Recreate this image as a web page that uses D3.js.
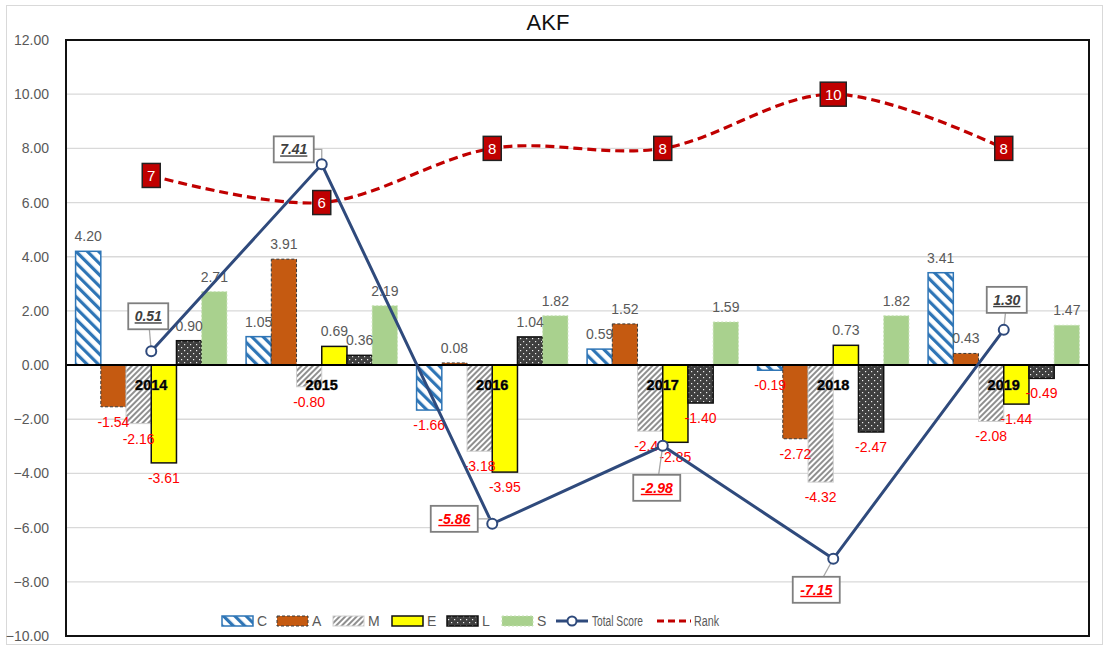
<!DOCTYPE html>
<html>
<head>
<meta charset="utf-8">
<script src="https://cdn.jsdelivr.net/npm/d3@7"></script>
<style>
  body { margin: 0; background: #fff; }
  text { font-family: "Liberation Sans", Arial, sans-serif; }
</style>
</head>
<body>
<div id="chart"></div>
<script>
// data
const years = ["2014", "2015", "2016", "2017", "2018", "2019"];
const seriesNames = ["C", "A", "M", "E", "L", "S"];
const C = [4.20, 1.05, -1.66, 0.59, -0.19, 3.41];
const A = [-1.54, 3.91, 0.08, 1.52, -2.72, 0.43];
const M = [-2.16, -0.80, -3.18, -2.44, -4.32, -2.08];
const E = [-3.61, 0.69, -3.95, -2.85, 0.73, -1.44];
const L = [0.90, 0.36, 1.04, -1.40, -2.47, -0.49];
const S = [2.71, 2.19, 1.82, 1.59, 1.82, 1.47];
const totalScore = [0.51, 7.41, -5.86, -2.98, -7.15, 1.30];
const rank = [7, 6, 8, 8, 10, 8];
const yTicks = [12, 10, 8, 6, 4, 2, 0, -2, -4, -6, -8, -10];

const width = 1104, height = 646;
const margin = { top: 40, right: 15, bottom: 10, left: 66 };
const plotW = 1089 - margin.left, plotH = 636 - margin.top;

// where the total score boxes sit relative to their point (dx, dy of box centre)
const totalLabelShift = [[-3, -35], [-28, -15], [-38, -5], [-6, 42], [-17, 31], [3, -30]];

const valuesBySeries = { C: C, A: A, M: M, E: E, L: L, S: S };
const rows = [];
seriesNames.forEach(s => {
  valuesBySeries[s].forEach((v, i) => rows.push({ series: s, year: years[i], value: v }));
});

const svg = d3.select("#chart")
  .append("svg")
  .attr("width", width)
  .attr("height", height);

const defs = svg.append("defs");

// C: wide blue downward diagonal
const pC = defs.append("pattern")
  .attr("id", "patC")
  .attr("patternUnits", "userSpaceOnUse")
  .attr("width", 8).attr("height", 8)
  .attr("patternTransform", "rotate(-45)");
pC.append("rect").attr("width", 8).attr("height", 8).attr("fill", "#fff");
pC.append("rect").attr("width", 3.2).attr("height", 8).attr("fill", "#2E75B6");

// M: thin gray upward diagonal
const pM = defs.append("pattern")
  .attr("id", "patM")
  .attr("patternUnits", "userSpaceOnUse")
  .attr("width", 4).attr("height", 4)
  .attr("patternTransform", "rotate(45)");
pM.append("rect").attr("width", 4).attr("height", 4).attr("fill", "#fff");
pM.append("rect").attr("width", 2).attr("height", 4).attr("fill", "#8f8f8f");

// L: dark with white dots
const pL = defs.append("pattern")
  .attr("id", "patL")
  .attr("patternUnits", "userSpaceOnUse")
  .attr("width", 6).attr("height", 6);
pL.append("rect").attr("width", 6).attr("height", 6).attr("fill", "#3f3f3f");
pL.append("rect").attr("x", 1).attr("y", 1).attr("width", 1.2).attr("height", 1.2).attr("fill", "#eee");
pL.append("rect").attr("x", 4).attr("y", 4).attr("width", 1.2).attr("height", 1.2).attr("fill", "#eee");

const barStyle = {
  C: { fill: "url(#patC)", stroke: "#2E75B6", width: 1.5, dash: null },
  A: { fill: "#C55A11", stroke: "#3a3a3a", width: 1, dash: "3,2" },
  M: { fill: "url(#patM)", stroke: "#d0d0d0", width: 1, dash: null },
  E: { fill: "#FFFF00", stroke: "#111", width: 1.5, dash: null },
  L: { fill: "url(#patL)", stroke: "#111", width: 1.5, dash: null },
  S: { fill: "#A9D18E", stroke: "#C5E0B4", width: 1, dash: "2,2" }
};

// outer chart border
svg.append("rect")
  .attr("x", 6.5).attr("y", 5.5)
  .attr("width", 1096).attr("height", 639)
  .attr("fill", "none")
  .attr("stroke", "#d9d9d9");

svg.append("text")
  .attr("x", 548).attr("y", 30)
  .attr("text-anchor", "middle")
  .style("font-size", "22px")
  .style("fill", "#111")
  .text("AKF");

const g = svg.append("g")
  .attr("transform", "translate(" + margin.left + "," + margin.top + ")");

const xScale = d3.scaleBand().domain(years).range([0, plotW]).padding(0);
const xInner = d3.scaleBand().domain(seriesNames).range([0, xScale.bandwidth()])
  .paddingInner(0).paddingOuter(0.38);
const yScale = d3.scaleLinear().domain([-10, 12]).range([plotH, 0]);

// gridlines
g.selectAll(".grid")
  .data(yTicks)
  .enter()
  .append("line")
  .attr("x1", 0).attr("x2", plotW)
  .attr("y1", d => yScale(d)).attr("y2", d => yScale(d))
  .attr("stroke", "#d9d9d9")
  .attr("stroke-width", 1.3);

// y axis labels
const yAxis = g.append("g")
  .call(d3.axisLeft(yScale).tickValues(yTicks).tickFormat(d3.format(".2f")).tickSize(0).tickPadding(17));
yAxis.select(".domain").remove();
yAxis.selectAll("text")
  .style("font-size", "14px")
  .style("font-family", "Liberation Sans, Arial, sans-serif")
  .attr("fill", "#595959");

// bars
g.selectAll(".bar")
  .data(rows)
  .enter()
  .append("rect")
  .attr("x", d => xScale(d.year) + xInner(d.series))
  .attr("y", d => yScale(Math.max(0, d.value)))
  .attr("width", xInner.bandwidth())
  .attr("height", d => Math.abs(yScale(d.value) - yScale(0)))
  .attr("fill", d => barStyle[d.series].fill)
  .attr("stroke", d => barStyle[d.series].stroke)
  .attr("stroke-width", d => barStyle[d.series].width)
  .attr("stroke-dasharray", d => barStyle[d.series].dash);

// zero line
g.append("line")
  .attr("x1", 0).attr("x2", plotW)
  .attr("y1", yScale(0)).attr("y2", yScale(0))
  .attr("stroke", "#000")
  .attr("stroke-width", 2);

// bar value labels
g.selectAll(".barLabel")
  .data(rows)
  .enter()
  .append("text")
  .attr("x", d => xScale(d.year) + xInner(d.series) + xInner.bandwidth() / 2)
  .attr("y", d => d.value >= 0 ? yScale(d.value) - 10 : yScale(d.value) + 20)
  .attr("text-anchor", "middle")
  .style("font-size", "14px")
  .style("fill", d => d.value >= 0 ? "#595959" : "#FF0000")
  .text(d => d.value.toFixed(2));

// year labels on the zero line
g.selectAll(".yearLabel")
  .data(years)
  .enter()
  .append("text")
  .attr("x", d => xScale(d) + xScale.bandwidth() / 2)
  .attr("y", yScale(0) + 25)
  .attr("text-anchor", "middle")
  .style("font-size", "14.5px")
  .style("font-weight", "bold")
  .style("fill", "#000")
  .style("paint-order", "stroke")
  .style("stroke", "#666")
  .style("stroke-width", "0.6px")
  .text(d => d);

// plot frame
g.append("rect")
  .attr("width", plotW).attr("height", plotH)
  .attr("fill", "none")
  .attr("stroke", "#111")
  .attr("stroke-width", 2);

const cx = i => xScale(years[i]) + xScale.bandwidth() / 2;

// rank line, smoothed
const rankLine = d3.line()
  .x((d, i) => cx(i))
  .y(d => yScale(d))
  .curve(d3.curveCardinal.tension(0));

g.append("path")
  .datum(rank)
  .attr("d", rankLine)
  .attr("fill", "none")
  .attr("stroke", "#C00000")
  .attr("stroke-width", 3.2)
  .attr("stroke-dasharray", "9,5");

// total score line
const totalLine = d3.line()
  .x((d, i) => cx(i))
  .y(d => yScale(d));

g.append("path")
  .datum(totalScore)
  .attr("d", totalLine)
  .attr("fill", "none")
  .attr("stroke", "#2F4A7C")
  .attr("stroke-width", 3);

// total score labels with leader lines
const totalLabels = g.selectAll(".totalLabel")
  .data(totalScore)
  .enter()
  .append("g")
  .attr("transform", (d, i) => "translate(" + (cx(i) + totalLabelShift[i][0]) + "," + (yScale(d) + totalLabelShift[i][1]) + ")");

// leader: elbow when the box sits beside the point, straight otherwise
totalLabels.append("path")
  .attr("d", (d, i) => {
    const dx = -totalLabelShift[i][0], dy = -totalLabelShift[i][1];
    if (Math.abs(dx) > 20 && dy > 0) return "M0,0H" + dx + "V" + dy;
    return "M0,0L" + dx + "," + dy;
  })
  .attr("fill", "none")
  .attr("stroke", "#a6a6a6")
  .attr("stroke-width", 1.3);

totalLabels.append("rect")
  .attr("x", d => d < 0 ? -23.5 : -20)
  .attr("y", -13)
  .attr("width", d => d < 0 ? 47 : 40)
  .attr("height", 26)
  .attr("fill", "#fff")
  .attr("stroke", "#7f7f7f")
  .attr("stroke-width", 1.8);

totalLabels.append("text")
  .attr("x", 0).attr("y", 5)
  .attr("text-anchor", "middle")
  .style("font-size", "14px")
  .style("font-weight", "bold")
  .style("font-style", "italic")
  .style("text-decoration", "underline")
  .style("fill", d => d < 0 ? "#FF0000" : "#404040")
  .text(d => d.toFixed(2));

// total score markers
g.selectAll(".marker")
  .data(totalScore)
  .enter()
  .append("circle")
  .attr("cx", (d, i) => cx(i))
  .attr("cy", d => yScale(d))
  .attr("r", 5)
  .attr("fill", "#fff")
  .attr("stroke", "#2F4A7C")
  .attr("stroke-width", 2);

// rank labels
const rankLabels = g.selectAll(".rankLabel")
  .data(rank)
  .enter()
  .append("g")
  .attr("transform", (d, i) => "translate(" + cx(i) + "," + yScale(d) + ")");

rankLabels.append("rect")
  .attr("x", d => d >= 10 ? -13 : -9)
  .attr("y", -12)
  .attr("width", d => d >= 10 ? 26 : 18)
  .attr("height", 24)
  .attr("fill", "#C00000")
  .attr("stroke", "#222")
  .attr("stroke-width", 1.5);

rankLabels.append("text")
  .attr("y", 5.5)
  .attr("text-anchor", "middle")
  .style("font-size", "15px")
  .style("fill", "#fff")
  .text(d => d);

// legend
const legend = svg.append("g").attr("transform", "translate(0,621)");
const legendX = { C: 222, A: 277, M: 333, E: 392, L: 447, S: 502 };

seriesNames.forEach(s => {
  legend.append("rect")
    .attr("x", legendX[s]).attr("y", -5)
    .attr("width", 31).attr("height", 10)
    .attr("fill", barStyle[s].fill)
    .attr("stroke", barStyle[s].stroke)
    .attr("stroke-width", barStyle[s].width)
    .attr("stroke-dasharray", barStyle[s].dash);
  legend.append("text")
    .attr("x", legendX[s] + 35).attr("y", 5)
    .style("font-size", "14px")
    .style("fill", "#595959")
    .text(s);
});

legend.append("line")
  .attr("x1", 556).attr("x2", 588)
  .attr("stroke", "#2F4A7C").attr("stroke-width", 3);
legend.append("circle")
  .attr("cx", 572).attr("r", 4.5)
  .attr("fill", "#fff").attr("stroke", "#2F4A7C").attr("stroke-width", 2);
legend.append("text")
  .attr("x", 592).attr("y", 5)
  .attr("textLength", 51)
  .attr("lengthAdjust", "spacingAndGlyphs")
  .style("font-size", "14px")
  .style("fill", "#595959")
  .text("Total Score");

legend.append("line")
  .attr("x1", 657).attr("x2", 691)
  .attr("stroke", "#C00000").attr("stroke-width", 3.2)
  .attr("stroke-dasharray", "7,4");
legend.append("text")
  .attr("x", 694).attr("y", 5)
  .attr("textLength", 25)
  .attr("lengthAdjust", "spacingAndGlyphs")
  .style("font-size", "14px")
  .style("fill", "#595959")
  .text("Rank");
</script>
</body>
</html>
